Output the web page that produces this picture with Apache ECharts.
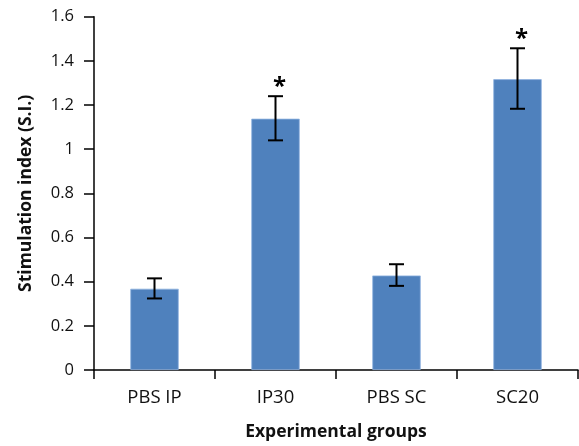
<!DOCTYPE html>
<html><head><meta charset="utf-8">
<script src="https://cdn.jsdelivr.net/npm/echarts@6/dist/echarts.min.js"></script>
<style>html,body{margin:0;padding:0;background:#fff}#c{width:579px;height:446px}</style>
</head><body><div id="c"></div>
<script>
const categories = ['PBS IP', 'IP30', 'PBS SC', 'SC20'];
const values = [0.368, 1.138, 0.428, 1.317];
const errLow = [0.324, 1.040, 0.381, 1.183];
const errHigh = [0.415, 1.240, 0.479, 1.457];
const significance = ['', '*', '', '*'];
const yTicks = [0, 0.2, 0.4, 0.6, 0.8, 1, 1.2, 1.4, 1.6];

const font = '"Open Sans", "DejaVu Sans", sans-serif';
const chart = echarts.init(document.getElementById('c'), null, {renderer: 'canvas'});
chart.setOption({
  animation: false,
  grid: {left: 94, right: 1, top: 16.7, bottom: 71.5, containLabel: false},
  xAxis: {
    type: 'category', data: categories,
    axisLine: {lineStyle: {color: '#000', width: 1.5}},
    axisTick: {show: true, length: 9, lineStyle: {color: '#000', width: 1.5}, alignWithLabel: false},
    axisLabel: {color: '#111', fontSize: 18.5, fontFamily: font, margin: 18},
    name: 'Experimental groups', nameLocation: 'middle', nameGap: 53,
    nameTextStyle: {color: '#111', fontSize: 17.5, fontWeight: 'bold', fontFamily: font}
  },
  yAxis: {
    type: 'value', min: yTicks[0], max: yTicks[yTicks.length - 1], interval: 0.2,
    splitLine: {show: false},
    axisLine: {show: true, lineStyle: {color: '#000', width: 1.5}},
    axisTick: {show: true, length: 10, lineStyle: {color: '#000', width: 1.5}},
    axisLabel: {color: '#111', fontSize: 16.5, fontFamily: font, margin: 20,
      formatter: v => String(Math.round(v * 10) / 10)},
    name: 'Stimulation index (S.I.)', nameLocation: 'middle', nameGap: 59, nameRotate: 90,
    nameTextStyle: {color: '#111', fontSize: 17.5, fontWeight: 'bold', fontFamily: font}
  },
  series: [
    {
      type: 'bar', data: values, barWidth: '40%',
      itemStyle: {color: '#4F81BD', borderColor: '#8FB3E0', borderWidth: 0.8}
    },
    {
      type: 'custom',
      data: categories.map((c, i) => [i, errLow[i], errHigh[i]]),
      z: 10,
      renderItem: function (params, api) {
        const i = api.value(0);
        const lo = api.coord([i, api.value(1)]);
        const hi = api.coord([i, api.value(2)]);
        const hw = 7.5;
        const children = [
          {type: 'line', shape: {x1: hi[0], y1: hi[1], x2: lo[0], y2: lo[1]}, style: {stroke: '#000', lineWidth: 2}},
          {type: 'line', shape: {x1: hi[0] - hw, y1: hi[1], x2: hi[0] + hw, y2: hi[1]}, style: {stroke: '#000', lineWidth: 2}},
          {type: 'line', shape: {x1: lo[0] - hw, y1: lo[1], x2: lo[0] + hw, y2: lo[1]}, style: {stroke: '#000', lineWidth: 2}}
        ];
        const s = significance[i];
        if (s) {
          children.push({type: 'text', x: hi[0] + 4, y: hi[1] + 3,
            style: {text: s, fill: '#000', font: 'bold 24px ' + font, align: 'center', verticalAlign: 'bottom'}});
        }
        return {type: 'group', children: children};
      }
    }
  ]
});
</script></body></html>
